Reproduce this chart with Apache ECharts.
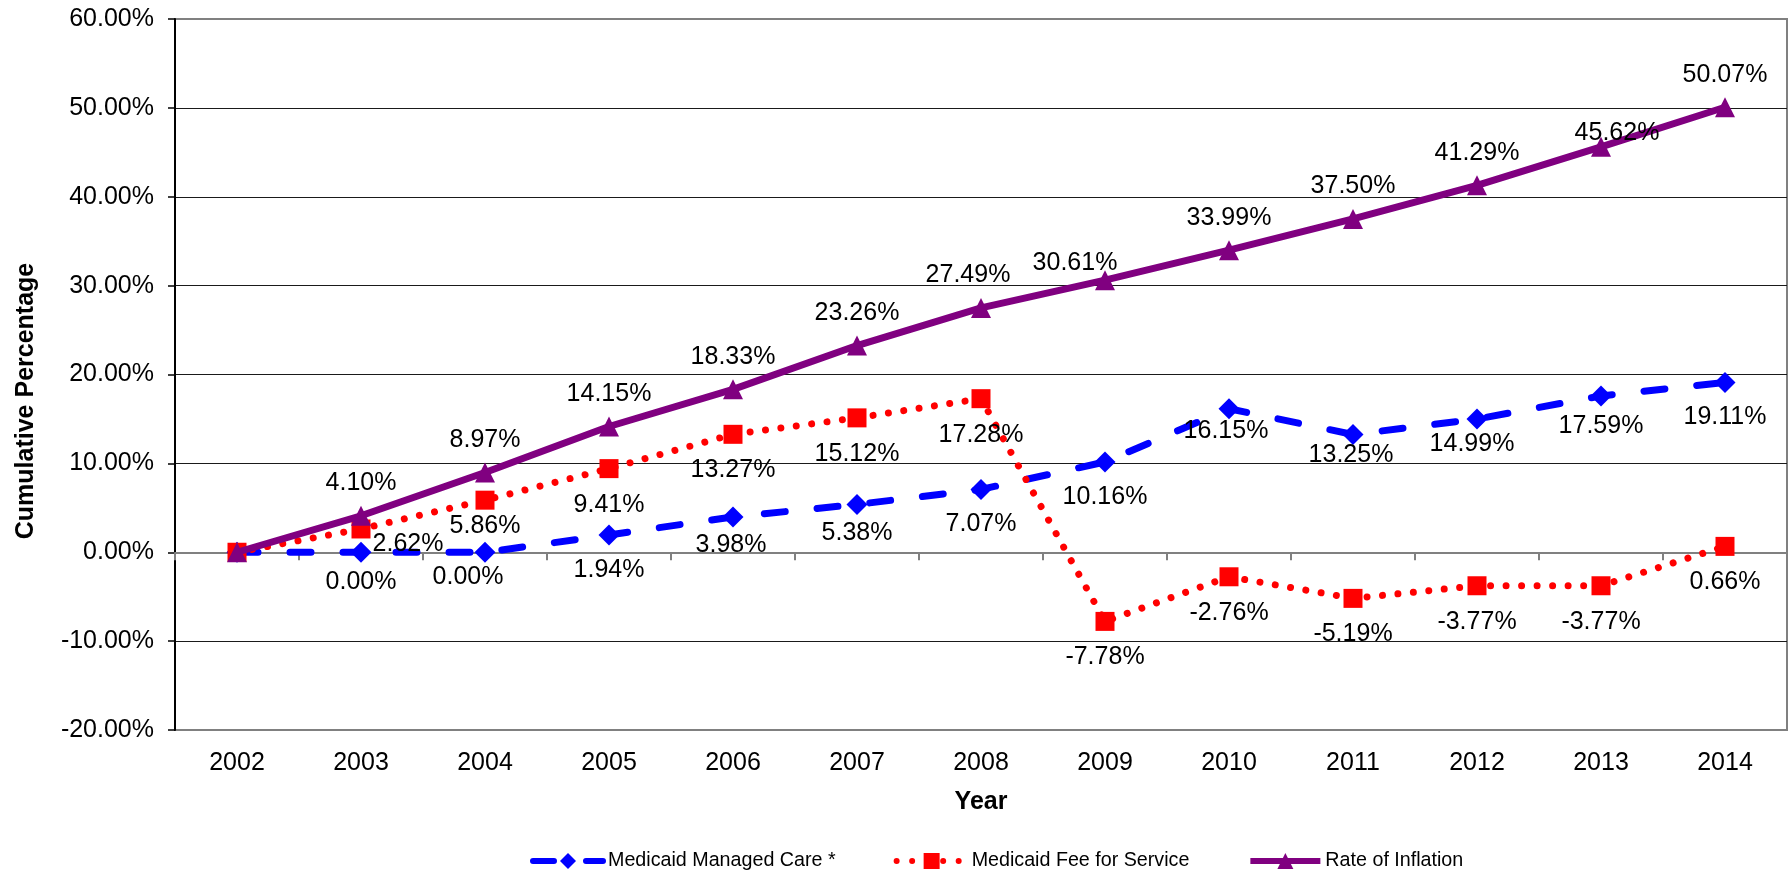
<!DOCTYPE html>
<html>
<head>
<meta charset="utf-8">
<script src="https://cdn.jsdelivr.net/npm/echarts@6/dist/echarts.min.js"></script>
<style>
html,body{margin:0;padding:0;background:#fff;}
#chart{width:1788px;height:874px;}
</style>
</head>
<body>
<div id="chart"></div>
<script>
// ---- data ----
const years = ['2002','2003','2004','2005','2006','2007','2008','2009','2010','2011','2012','2013','2014'];
const managedCare = [0, 0.00, 0.00, 1.94, 3.98, 5.38, 7.07, 10.16, 16.15, 13.25, 14.99, 17.59, 19.11];
const feeForService = [0, 2.62, 5.86, 9.41, 13.27, 15.12, 17.28, -7.78, -2.76, -5.19, -3.77, -3.77, 0.66];
const inflation = [0, 4.10, 8.97, 14.15, 18.33, 23.26, 27.49, 30.61, 33.99, 37.50, 41.29, 45.62, 50.07];
const yTicks = { min: -20, max: 60, interval: 10 };
const seriesNames = ['Medicaid Managed Care *', 'Medicaid Fee for Service', 'Rate of Inflation'];

// ---- label layout (offsets of label centre from the marker, px) ----
const labelDefault = { mc: [0, 35], ffs: [0, 36], inf: [0, -32.5] };
const labelOverride = {
  mc: {1: [0, 30], 2: [-17, 25], 4: [-2, 28], 5: [0, 29], 8: [-3, 22], 9: [-2, 20.5], 10: [-5, 25], 11: [0, 30]},
  ffs: {1: [47, 15], 2: [0, 26]},
  inf: {6: [-13, -33], 7: [-30, -17], 11: [16, -14]}
};

const FONT = '"Liberation Sans", Arial, sans-serif';

function buildData(values, key) {
  return values.map((v, i) => {
    const off = (labelOverride[key][i]) || labelDefault[key];
    return {
      value: v,
      label: i === 0 ? { show: false } : { offset: off }
    };
  });
}

const labelCommon = {
  show: true,
  position: 'inside',
  color: '#000',
  fontSize: 25,
  fontFamily: FONT,
  formatter: p => p.value.toFixed(2) + '%'
};

const chart = echarts.init(document.getElementById('chart'), null, { renderer: 'canvas' });

const option = {
  animation: false,
  backgroundColor: '#fff',
  grid: {
    left: 175, right: 1, top: 19, bottom: 144,
    show: true, borderColor: '#808080', borderWidth: 2, backgroundColor: 'transparent'
  },
  legend: {
    left: 525, top: 846,
    itemWidth: 70, itemHeight: 20, itemGap: 58,
    lineStyle: { width: 6 },
    textStyle: { fontSize: 19.7, fontFamily: FONT, color: '#000' },
    data: seriesNames
  },
  xAxis: [
    {
      type: 'category', data: years, boundaryGap: true,
      axisLine: { show: false, onZero: false },
      axisTick: { show: false },
      axisLabel: { fontSize: 25, fontFamily: FONT, color: '#000', margin: 21, interval: 0 },
      splitLine: { show: false }
    },
    {
      type: 'category', data: years, boundaryGap: true, position: 'bottom',
      axisLine: { show: true, onZero: true, lineStyle: { color: '#808080', width: 2 } },
      axisTick: { show: true, length: 8, lineStyle: { color: '#808080', width: 2 } },
      axisLabel: { show: false },
      splitLine: { show: false }
    }
  ],
  yAxis: {
    type: 'value', min: yTicks.min, max: yTicks.max, interval: yTicks.interval,
    axisLine: { show: true, lineStyle: { color: '#000', width: 2 } },
    axisTick: { show: true, length: 7, lineStyle: { color: '#000', width: 1.5 } },
    axisLabel: { fontSize: 25, fontFamily: FONT, color: '#000', margin: 21,
                 formatter: v => v.toFixed(2) + '%' },
    splitLine: { show: true, showMinLine: false, showMaxLine: false,
                 lineStyle: { color: '#1a1a1a', width: 1 } }
  },
  graphic: [
    { type: 'text', x: 981, y: 802, style: { text: 'Year', fontSize: 25, fontWeight: 'bold',
      fontFamily: FONT, fill: '#000', align: 'center', verticalAlign: 'middle' } },
    { type: 'text', x: 26, y: 401, rotation: Math.PI / 2, style: { text: 'Cumulative Percentage',
      fontSize: 25, fontWeight: 'bold', fontFamily: FONT, fill: '#000', align: 'center', verticalAlign: 'middle' } }
  ],
  series: [
    {
      name: seriesNames[0], type: 'line', xAxisIndex: 0,
      data: buildData(managedCare, 'mc'),
      symbol: 'diamond', symbolSize: [21, 21],
      itemStyle: { color: '#0000FF' },
      lineStyle: { color: '#0000FF', width: 7, type: [21, 32], cap: 'round' },
      label: labelCommon, z: 2
    },
    {
      name: seriesNames[1], type: 'line', xAxisIndex: 0,
      data: buildData(feeForService, 'ffs'),
      symbol: 'rect', symbolSize: 19,
      itemStyle: { color: '#FF0000' },
      lineStyle: { color: '#FF0000', width: 7, type: [0.01, 15.5], cap: 'round' },
      label: labelCommon, z: 3
    },
    {
      name: seriesNames[2], type: 'line', xAxisIndex: 0,
      data: buildData(inflation, 'inf'),
      symbol: 'triangle', symbolSize: 20,
      itemStyle: { color: '#800080' },
      lineStyle: { color: '#800080', width: 7 },
      label: labelCommon, z: 4
    }
  ]
};
chart.setOption(option);
</script>
</body>
</html>
